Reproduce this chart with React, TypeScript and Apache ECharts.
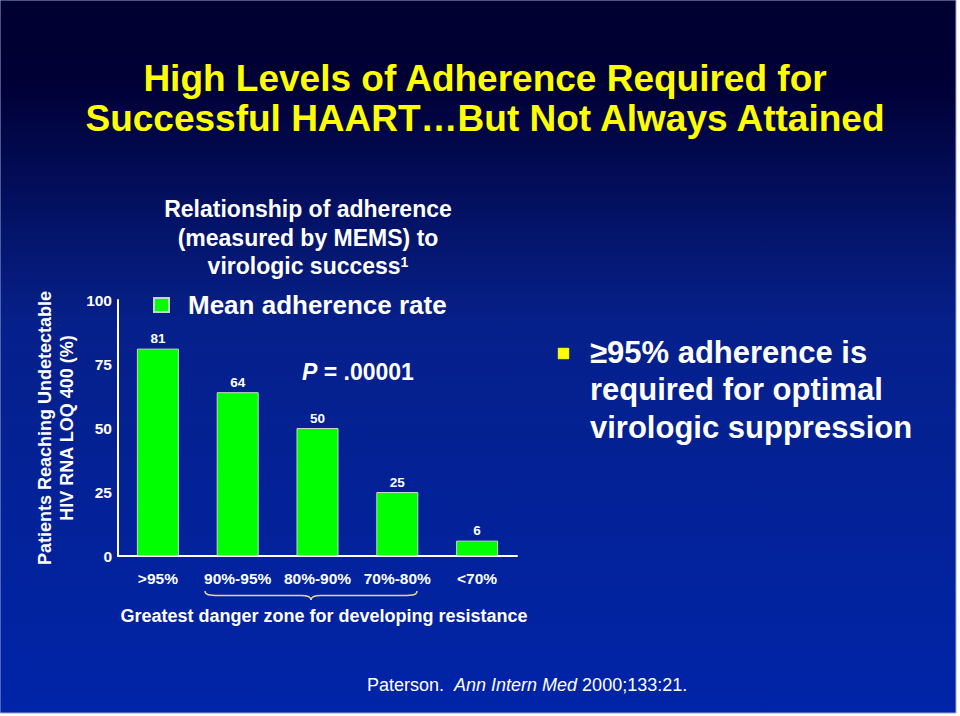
import React, { useEffect, useRef } from "react";
import * as echarts from "echarts";

const categories = [">95%", "90%-95%", "80%-90%", "70%-80%", "<70%"];
const values = [81, 64, 50, 25, 6];
const seriesName = "Mean adherence rate";
const yTicks = { min: 0, max: 100, interval: 25 };
const titleLines = ["High Levels of Adherence Required for", "Successful HAART\u2026But Not Always Attained"];
const subtitleLines = ["Relationship of adherence", "(measured by MEMS) to", "virologic success"];
const yAxisLines = ["Patients Reaching Undetectable", "HIV RNA LOQ 400 (%)"];
const bulletLines = ["\u226595% adherence is", "required for optimal", "virologic suppression"];
const dangerText = "Greatest danger zone for developing resistance";

const FONT = "Liberation Sans, Arial, Helvetica, sans-serif";

export default function App() {
  const ref = useRef<HTMLDivElement>(null);
  useEffect(() => {
    if (!ref.current) return;
    const chart = echarts.init(ref.current, null, { renderer: "svg" });
    const w = 212;
    const h = 9;
    const m = w / 2;
    const d = `M0 0 C0 4 4 4.5 14 4.5 L${m - 10} 4.5 C${m - 3} 4.5 ${m} 5.5 ${m} ${h} C${m} 5.5 ${m + 3} 4.5 ${m + 10} 4.5 L${w - 14} 4.5 C${w - 4} 4.5 ${w} 4 ${w} 0`;
    echarts.graphic.registerShape("brace", echarts.graphic.extendPath(d, {}) as any);

    chart.setOption({
      animation: false,
      backgroundColor: "#ffffff",
      textStyle: { fontFamily: FONT },
      grid: { left: 118, right: 443, top: 300, bottom: 160 },
      legend: {
        show: true,
        left: 148,
        top: 287,
        icon: "rect",
        itemWidth: 15,
        itemHeight: 14,
        selectedMode: false,
        textStyle: { color: "#ffffff", fontSize: 26, fontWeight: "bold", fontFamily: FONT, padding: [0, 0, 0, 14] },
        data: [seriesName],
      },
      xAxis: {
        type: "category",
        data: categories,
        axisLine: { lineStyle: { color: "#ffffff", width: 2 } },
        axisTick: { show: false },
        axisLabel: { interval: 0, color: "#ffffff", fontSize: 15.5, fontWeight: "bold", margin: 14, fontFamily: FONT },
      },
      yAxis: {
        type: "value",
        min: yTicks.min,
        max: yTicks.max,
        interval: yTicks.interval,
        splitLine: { show: false },
        axisTick: { show: false },
        axisLine: { show: true, lineStyle: { color: "#ffffff", width: 2 } },
        axisLabel: { color: "#ffffff", fontSize: 15.5, fontWeight: "bold", margin: 6, fontFamily: FONT },
      },
      series: [
        {
          name: seriesName,
          type: "bar",
          data: values,
          barWidth: 42,
          itemStyle: { color: "#00ff00", borderColor: "#c8d8c8", borderWidth: 1 },
          label: { show: true, position: "top", distance: 3, color: "#ffffff", fontSize: 13.5, fontWeight: "bold", fontFamily: FONT },
        },
      ],
      graphic: [
        {
          type: "rect",
          z: -10,
          silent: true,
          shape: { x: 0, y: 0, width: 956, height: 713 },
          style: {
            fill: new echarts.graphic.LinearGradient(0, 0, 0, 1, [
              { offset: 0, color: "#000030" },
              { offset: 0.12, color: "#000036" },
              { offset: 0.45, color: "#06208a" },
              { offset: 1, color: "#0024a8" },
            ]),
            stroke: "#9aa6d0",
            lineWidth: 1,
          },
        },
        ...titleLines.map((t, i) => ({
          type: "text",
          x: 485,
          y: 78 + i * 40,
          style: { text: t, fill: "#ffff00", font: `bold 37px ${FONT}`, align: "center", verticalAlign: "middle" },
        })),
        ...subtitleLines.map((t, i) => ({
          type: "text",
          x: 308,
          y: 209 + i * 28.5,
          style: {
            text: i === 2 ? `${t}{s|1}` : t,
            fill: "#ffffff",
            font: `bold 23px ${FONT}`,
            align: "center",
            verticalAlign: "middle",
            rich: { s: { fontSize: 14, fontWeight: "bold", fill: "#ffffff", verticalAlign: "top", padding: [0, 0, 8, 0] } } as any,
          },
        })),
        ...yAxisLines.map((t, i) => ({
          type: "text",
          x: 45 + i * 22,
          y: 428,
          rotation: Math.PI / 2,
          style: { text: t, fill: "#ffffff", font: `bold 18px ${FONT}`, align: "center", verticalAlign: "middle" },
        })),
        {
          type: "text",
          x: 302,
          y: 372,
          style: {
            text: "{p|P} = .00001",
            fill: "#ffffff",
            font: `bold 23px ${FONT}`,
            align: "left",
            verticalAlign: "middle",
            rich: { p: { fontStyle: "italic", fontWeight: "bold", fontSize: 23, fill: "#ffffff" } } as any,
          },
        },
        {
          type: "rect",
          shape: { x: 558, y: 348, width: 11, height: 11 },
          style: { fill: "#ffff00", stroke: "#d8d000", lineWidth: 0.5 },
        },
        ...bulletLines.map((t, i) => ({
          type: "text",
          x: 590,
          y: 352 + i * 37.5,
          style: { text: t, fill: "#ffffff", font: `bold 31px ${FONT}`, align: "left", verticalAlign: "middle" },
        })),
        {
          type: "brace",
          x: 205,
          y: 591,
          style: { fill: "none", stroke: "#e0d8a0", lineWidth: 1.5 },
        },
        {
          type: "text",
          x: 324,
          y: 616,
          style: { text: dangerText, fill: "#ffffff", font: `bold 18px ${FONT}`, align: "center", verticalAlign: "middle" },
        },
        {
          type: "text",
          x: 367,
          y: 685,
          style: {
            text: "Paterson.  {i|Ann Intern Med} 2000;133:21.",
            fill: "#ffffff",
            font: `18px ${FONT}`,
            align: "left",
            verticalAlign: "middle",
            rich: { i: { fontStyle: "italic", fontSize: 18, fill: "#ffffff" } } as any,
          },
        },
      ],
    });
    return () => chart.dispose();
  }, []);
  return <div ref={ref} style={{ position: "absolute", left: 0, top: 0, width: 960, height: 716 }} />;
}
